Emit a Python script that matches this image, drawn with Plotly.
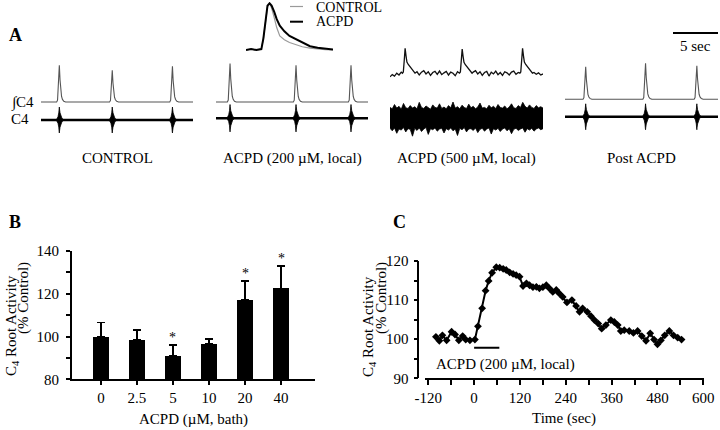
import plotly.graph_objects as go

# ======================= DATA =======================
# ---- Panel A : recordings (time in s, amplitude in units of a control burst) ----
COND_LABELS = ["CONTROL", "ACPD (200 \u00b5M, local)", "ACPD (500 \u00b5M, local)", "Post ACPD"]
SEG_DUR = 17.0
BURST_TIMES = [[2.05, 7.97, 14.70], [1.57, 8.95, 15.10], [1.68, 8.02, 14.73], [2.30, 8.95, 14.65]]
BURST_AMPS = [[1.02, 0.88, 0.99], [1.07, 1.02, 1.02], [0.69, 0.67, 0.69], [0.90, 1.00, 0.93]]
INT_BASE = [0.0, 0.0, 0.80, 0.075]
RAW_BASE = [-0.50, -0.45, -0.45, -0.41]
RAW_BURST_AMP = [0.36, 0.38, 0.0, 0.36]

# integrated burst waveform (time from peak, normalised value)
INT_BURST_T = [-0.30, -0.20, -0.10, 0.00, 0.08, 0.16, 0.25, 0.35, 0.50, 0.70]
INT_BURST_V = [0.00, 0.05, 0.45, 1.00, 0.60, 0.30, 0.15, 0.07, 0.02, 0.00]
INT500_BURST_T = [-0.30, -0.20, -0.10, 0.00, 0.10, 0.20, 0.35, 0.55, 0.80, 1.10]
INT500_BURST_V = [0.00, 0.05, 0.50, 1.00, 0.70, 0.45, 0.35, 0.25, 0.12, 0.00]
# raw C4 burst envelope
RAW_BURST_T = [-0.30, -0.15, -0.06, -0.02, 0.00, 0.02, 0.08, 0.18, 0.30, 0.45]
RAW_BURST_V = [0.05, 0.25, 0.55, 0.90, 1.00, 0.85, 0.55, 0.30, 0.12, 0.05]

# ACPD 500 uM: tonic noisy activity (0.25 s apart)
INT500_NOISE = [-0.10, -0.04, -0.08, 0.00, -0.05, 0.03, -0.02, 0.05, -0.04, 0.02,
                0.06, -0.03, 0.04, -0.05, 0.03, 0.07, -0.02, 0.04, -0.06, 0.02,
                0.05, -0.03, 0.06, -0.04, 0.01, 0.05, -0.05, 0.03, 0.00, -0.07,
                0.04, 0.08, 0.02, 0.06, -0.03, 0.05, -0.04, 0.03, 0.07, -0.02,
                0.04, -0.06, 0.02, 0.05, -0.08, 0.03, -0.02, 0.06, -0.04, 0.02,
                -0.06, 0.04, 0.01, -0.05, 0.03, 0.06, -0.03, 0.02, -0.05, 0.04,
                0.00, -0.04, 0.03, -0.06, 0.02, -0.03, 0.01, -0.05, -0.02]
RAW500_UP = [0.30, 0.26, 0.38, 0.28, 0.33, 0.25, 0.41, 0.29, 0.27, 0.35,
             0.28, 0.32, 0.26, 0.44, 0.30, 0.27, 0.34, 0.29, 0.25, 0.37,
             0.30, 0.28, 0.40, 0.27, 0.31, 0.26, 0.35, 0.29, 0.45, 0.28,
             0.32, 0.26, 0.36, 0.30, 0.27, 0.39, 0.29, 0.33, 0.26, 0.31,
             0.42, 0.28, 0.30, 0.26, 0.36, 0.29, 0.33, 0.27, 0.38, 0.30,
             0.28, 0.34, 0.26, 0.31, 0.40, 0.29, 0.27, 0.35, 0.30, 0.44,
             0.33, 0.28, 0.37, 0.30, 0.27, 0.35, 0.29, 0.32, 0.28]
RAW500_LO = [-0.28, -0.35, -0.27, -0.42, -0.30, -0.33, -0.26, -0.38, -0.29, -0.31,
             -0.50, -0.28, -0.34, -0.27, -0.37, -0.30, -0.26, -0.45, -0.29, -0.32,
             -0.27, -0.36, -0.30, -0.28, -0.41, -0.29, -0.33, -0.27, -0.35, -0.30,
             -0.48, -0.28, -0.32, -0.26, -0.38, -0.30, -0.29, -0.34, -0.27, -0.40,
             -0.31, -0.28, -0.36, -0.30, -0.27, -0.44, -0.29, -0.33, -0.28, -0.37,
             -0.30, -0.27, -0.35, -0.29, -0.43, -0.31, -0.28, -0.34, -0.30, -0.27,
             -0.39, -0.29, -0.33, -0.28, -0.36, -0.30, -0.27, -0.32, -0.29]

SCALE_BAR_SEC = 5

# Inset: averaged integrated burst
INSET_T = [0, 0.1, 0.2, 0.3, 0.34, 0.38, 0.42, 0.46, 0.5, 0.55, 0.6, 0.66, 0.75, 0.85, 1.0, 1.1, 1.25, 1.4, 1.55, 1.7]
INSET_CTRL = [0.0, 0.02, 0.0, 0.02, 0.25, 0.65, 0.92, 1.0, 0.9, 0.7, 0.48, 0.30, 0.22, 0.16, 0.11, 0.07, 0.04, 0.02, 0.01, 0.0]
INSET_ACPD = [0.0, 0.02, 0.0, 0.02, 0.25, 0.68, 0.95, 1.0, 0.95, 0.82, 0.66, 0.52, 0.40, 0.30, 0.22, 0.15, 0.08, 0.05, 0.03, 0.01]

# ---- Panel B ----
B_CATS = ["0", "2.5", "5", "10", "20", "40"]
B_MEANS = [100.0, 98.4, 91.1, 96.6, 117.1, 122.5]
B_SEM = [6.5, 4.7, 4.9, 2.3, 9.0, 10.5]
B_SIG = [False, False, True, False, True, True]

# ---- Panel C ----
C_TIME = [-100, -91, -83, -72, -59, -50, -40, -30, -22, -11, 2, 10, 21, 30, 38, 47, 58, 67, 76, 84,
          93, 102, 110, 119, 128, 137, 145, 154, 163, 171, 180, 189, 197, 206, 215, 223, 232, 243,
          256, 267, 276, 284, 296, 306, 315, 325, 334, 345, 358, 367, 376, 384, 393, 406, 417, 428,
          439, 450, 461, 471, 480, 489, 499, 511, 522, 533, 543]
C_VALUE = [100.6, 99.6, 101.0, 99.7, 101.9, 101.2, 99.7, 100.8, 99.9, 99.7, 99.9, 103.3, 107.9,
           112.4, 114.9, 117.0, 118.4, 118.3, 118.0, 117.7, 117.1, 116.7, 116.4, 116.0, 113.6,
           114.3, 113.8, 113.3, 113.4, 113.0, 113.3, 113.8, 113.0, 112.1, 112.6, 111.7, 110.8,
           109.4, 110.0, 108.5, 107.0, 107.9, 107.0, 105.9, 104.9, 104.0, 102.7, 103.6, 104.9,
           104.4, 103.6, 102.1, 102.3, 102.1, 101.6, 102.1, 100.8, 99.6, 101.5, 99.9, 98.7, 99.7,
           101.0, 102.1, 101.0, 100.4, 99.9]
C_ACPD_WINDOW = [0, 66]
C_ACPD_LEVEL = 97.8

# ======================= LAYOUT HELPERS =======================
W, H = 720, 430
FONT = "Liberation Serif"


def px(x):
    return x / W


def py(y):
    return 1 - y / H


fig = go.Figure()

# ======================= PANEL A =======================
A_XAXES = ["x3", "x4", "x5", "x6"]
A_DOMAINS = [(41, 193), (216, 368), (390, 543), (565, 718)]


def integrated(times, amps, base, tt, tv, bg_t, bg_v):
    wins = [(tb + tt[0], tb + tt[-1]) for tb in times]
    pts = [(t, base + v) for t, v in zip(bg_t, bg_v) if not any(a <= t <= b for a, b in wins)]
    for tb, a in zip(times, amps):
        pts += [(tb + dt, base + a * v) for dt, v in zip(tt, tv)]
    pts.sort()
    return [p[0] for p in pts], [p[1] for p in pts]


n = len(INT500_NOISE)
step = SEG_DUR / (n - 1)
noise_t = [i * step for i in range(n)]

for i, xa in enumerate(A_XAXES):
    if i == 2:
        xs, ys = integrated(BURST_TIMES[i], BURST_AMPS[i], INT_BASE[i], INT500_BURST_T, INT500_BURST_V,
                            noise_t, INT500_NOISE)
        fig.add_trace(go.Scatter(x=xs, y=ys, mode="lines", line=dict(color="#111", width=1.3),
                                 xaxis=xa, yaxis="y3", hoverinfo="skip"))
        bx_ = noise_t + noise_t[::-1]
        by_ = [RAW_BASE[i] + u for u in RAW500_UP] + [RAW_BASE[i] + l for l in RAW500_LO[::-1]]
        fig.add_trace(go.Scatter(x=bx_, y=by_, mode="lines", fill="toself", fillcolor="black",
                                 line=dict(color="black", width=0.8), xaxis=xa, yaxis="y3", hoverinfo="skip"))
    else:
        xs, ys = integrated(BURST_TIMES[i], BURST_AMPS[i], INT_BASE[i], INT_BURST_T, INT_BURST_V,
                            [0, SEG_DUR], [0, 0])
        fig.add_trace(go.Scatter(x=xs, y=ys, mode="lines", line=dict(color="#555", width=1.1),
                                 xaxis=xa, yaxis="y3", hoverinfo="skip"))
        fig.add_trace(go.Scatter(x=[0, SEG_DUR], y=[RAW_BASE[i], RAW_BASE[i]], mode="lines",
                                 line=dict(color="black", width=2.6), xaxis=xa, yaxis="y3", hoverinfo="skip"))
        px_, py_ = [], []
        for tb in BURST_TIMES[i]:
            up = [RAW_BASE[i] + RAW_BURST_AMP[i] * v for v in RAW_BURST_V]
            lo = [RAW_BASE[i] - RAW_BURST_AMP[i] * v for v in RAW_BURST_V]
            px_ += [tb + dt for dt in RAW_BURST_T] + [tb + dt for dt in RAW_BURST_T[::-1]] + [None]
            py_ += up + lo[::-1] + [None]
        fig.add_trace(go.Scatter(x=px_, y=py_, mode="lines", fill="toself", fillcolor="black",
                                 line=dict(color="black", width=0.8), xaxis=xa, yaxis="y3", hoverinfo="skip"))

# scale bar on last segment
fig.add_trace(go.Scatter(x=[SEG_DUR - SCALE_BAR_SEC, SEG_DUR], y=[1.92, 1.92], mode="lines",
                         line=dict(color="black", width=2), xaxis="x6", yaxis="y3", hoverinfo="skip"))

# inset
fig.add_trace(go.Scatter(x=INSET_T, y=INSET_CTRL, mode="lines", line=dict(color="#9a9a9a", width=1.2),
                         xaxis="x7", yaxis="y7", hoverinfo="skip"))
fig.add_trace(go.Scatter(x=INSET_T, y=INSET_ACPD, mode="lines", line=dict(color="black", width=2),
                         xaxis="x7", yaxis="y7", hoverinfo="skip"))

# ======================= PANEL B =======================
bx = list(range(len(B_CATS)))
fig.add_trace(go.Bar(x=bx, y=B_MEANS, width=0.44, marker=dict(color="black", line=dict(width=0)),
                     error_y=dict(type="data", array=B_SEM, arrayminus=[0] * len(B_SEM), symmetric=False,
                                  color="black", thickness=1.6, width=4),
                     xaxis="x", yaxis="y", hoverinfo="skip"))
STAR_GAP = 3.4

# ======================= PANEL C =======================
fig.add_trace(go.Scatter(x=C_TIME, y=C_VALUE, mode="lines+markers",
                         line=dict(color="black", width=2),
                         marker=dict(symbol="diamond", size=6, color="black"),
                         xaxis="x2", yaxis="y2", hoverinfo="skip"))
fig.add_trace(go.Scatter(x=C_ACPD_WINDOW, y=[C_ACPD_LEVEL] * 2, mode="lines",
                         line=dict(color="black", width=2), xaxis="x2", yaxis="y2", hoverinfo="skip"))

# ======================= AXES =======================
axis_common = dict(showgrid=False, zeroline=False, color="black", automargin=False,
                   tickfont=dict(family=FONT, size=15, color="black"))
lay = {}
hidden = dict(visible=False, showgrid=False, zeroline=False, fixedrange=True, automargin=False)
for xa, (a, b) in zip(A_XAXES, A_DOMAINS):
    key = "xaxis" + xa[1:]
    lay[key] = dict(hidden, domain=[px(a), px(b)], range=[0, SEG_DUR], anchor="y3")
lay["yaxis3"] = dict(hidden, domain=[py(140), py(25)], range=[(102 - 140) / 36, (102 - 25) / 36], anchor="x3")
lay["xaxis7"] = dict(hidden, domain=[px(246), px(333)], range=[0, 1.7], anchor="y7")
lay["yaxis7"] = dict(hidden, domain=[py(51), py(2)], range=[-1 / 46.7, 1 + 1.3 / 46.7], anchor="x7")

lay["xaxis"] = dict(axis_common, domain=[px(71.7), px(315)], range=[-0.81, 5.94], anchor="y",
                    showline=True, linecolor="black", linewidth=1.5,
                    ticks="outside", ticklen=4, tickwidth=1.5, tickcolor="black",
                    tickvals=bx, ticktext=B_CATS)
lay["yaxis"] = dict(axis_common, domain=[py(379.3), py(251)], range=[80, 140], anchor="x",
                    showline=True, linecolor="black", linewidth=1.5,
                    ticks="outside", ticklen=4, tickwidth=1.5, tickcolor="black", dtick=20,
                    ticklabelstandoff=4,
                    minor=dict(dtick=10, ticks="outside", ticklen=4, tickwidth=1.5, tickcolor="black"))

C_TICKS = [-120, 0, 120, 240, 360, 480, 600]
lay["xaxis2"] = dict(axis_common, domain=[px(425), px(703.5)], range=[-128.6, 600.5], anchor="y2",
                     showline=True, linecolor="black", linewidth=1.5,
                     ticks="outside", ticklen=5, tickwidth=1.5, tickcolor="black",
                     tickvals=C_TICKS, ticktext=[str(t) for t in C_TICKS],
                     minor=dict(tickvals=[-60, 60, 180, 300, 420, 540], ticks="outside", ticklen=5,
                                tickwidth=1.5, tickcolor="black"))
lay["yaxis2"] = dict(axis_common, domain=[py(378.3), py(261)], range=[90, 120], anchor="free",
                     position=px(418.3), showline=True, linecolor="black", linewidth=1.5,
                     ticks="outside", ticklen=4, tickwidth=1.5, tickcolor="black", dtick=10,
                     ticklabelstandoff=2,
                     minor=dict(dtick=5, ticks="outside", ticklen=4, tickwidth=1.5, tickcolor="black"))

# ======================= TEXT =======================
ann = []


def txt(text, x, y, xref="paper", yref="paper", xanchor="center", size=15, angle=0, bold=False):
    ann.append(dict(text=f"<b>{text}</b>" if bold else text, x=x, y=y, xref=xref, yref=yref,
                    xanchor=xanchor, yanchor="middle", showarrow=False, textangle=angle,
                    font=dict(family=FONT, size=size, color="black")))


txt("A", px(7), py(35), xanchor="left", size=18, bold=True)
txt("B", px(7), py(222), xanchor="left", size=18, bold=True)
txt("C", px(391), py(222), xanchor="left", size=18, bold=True)
for xa, lab in zip(A_XAXES, COND_LABELS):
    txt(lab, 0.5, py(158), xref=xa + " domain")
txt("\u222bC4", px(9), py(102), xanchor="left")
txt("C4", px(9), py(119), xanchor="left")
txt(f"{SCALE_BAR_SEC} sec", SEG_DUR - SCALE_BAR_SEC / 2, py(46), xref="x6")
txt("CONTROL", px(314), py(7), xanchor="left", size=14)
txt("ACPD", px(314), py(22), xanchor="left", size=14)
# significance stars
for x, m, e, s in zip(bx, B_MEANS, B_SEM, B_SIG):
    if s:
        txt("*", x, m + e + STAR_GAP, xref="x", yref="y", size=14)
# axis titles
txt("ACPD (\u00b5M, bath)", 0.5, py(419), xref="x domain")
txt("C<sub>4</sub> Root Activity", px(12), py(326), angle=-90)
txt("(% Control)", px(23), py(298), angle=-90)
txt("Time (sec)", 0.5, py(418), xref="x2 domain")
txt("C<sub>4</sub> Root Activity", px(369), py(326), angle=-90)
txt("(% Control)", px(381), py(298), angle=-90)
txt("ACPD (200 \u00b5M, local)", -106, 93.6, xref="x2", yref="y2", xanchor="left")

shapes = [
    dict(type="line", xref="paper", yref="paper", x0=px(290), x1=px(303), y0=py(6.5), y1=py(6.5),
         line=dict(color="#9a9a9a", width=1.2)),
    dict(type="line", xref="paper", yref="paper", x0=px(290), x1=px(303), y0=py(21.7), y1=py(21.7),
         line=dict(color="black", width=2)),
]

fig.update_layout(template="none", width=W, height=H, margin=dict(l=0, r=0, t=0, b=0, pad=0),
                  paper_bgcolor="white", plot_bgcolor="rgba(0,0,0,0)", showlegend=False,
                  annotations=ann, shapes=shapes,
                  font=dict(family=FONT, color="black"), bargap=0, **lay)

fig.write_html("out.html", config={"displayModeBar": False},
               post_script="document.body.style.margin='0';document.body.style.overflow='hidden';")
